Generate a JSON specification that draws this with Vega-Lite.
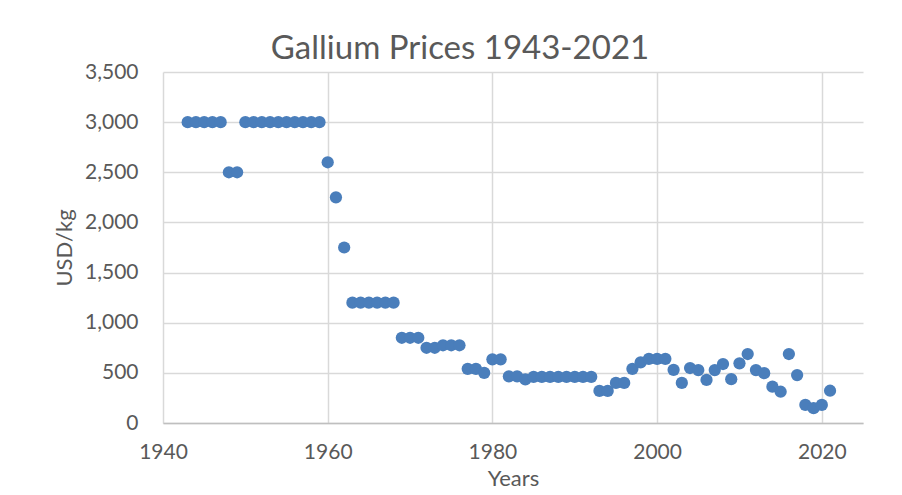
{
  "$schema": "https://vega.github.io/schema/vega-lite/v6.json",
  "width": 700,
  "height": 351,
  "autosize": {"type": "none"},
  "padding": {"left": 163, "top": 72, "right": 39, "bottom": 72},
  "background": "white",
  "title": {
    "text": "Gallium Prices 1943-2021",
    "font": "Lato",
    "fontSize": 33,
    "fontWeight": "normal",
    "color": "#595959",
    "anchor": "middle",
    "dx": -53,
    "offset": -5
  },
  "config": {
    "view": {"stroke": null},
    "font": "Lato"
  },
  "data": {
    "values": [
      {"year": 1943, "price": 3000}, {"year": 1944, "price": 3000}, {"year": 1945, "price": 3000},
      {"year": 1946, "price": 3000}, {"year": 1947, "price": 3000}, {"year": 1948, "price": 2500},
      {"year": 1949, "price": 2500}, {"year": 1950, "price": 3000}, {"year": 1951, "price": 3000},
      {"year": 1952, "price": 3000}, {"year": 1953, "price": 3000}, {"year": 1954, "price": 3000},
      {"year": 1955, "price": 3000}, {"year": 1956, "price": 3000}, {"year": 1957, "price": 3000},
      {"year": 1958, "price": 3000}, {"year": 1959, "price": 3000}, {"year": 1960, "price": 2600},
      {"year": 1961, "price": 2250}, {"year": 1962, "price": 1750}, {"year": 1963, "price": 1200},
      {"year": 1964, "price": 1200}, {"year": 1965, "price": 1200}, {"year": 1966, "price": 1200},
      {"year": 1967, "price": 1200}, {"year": 1968, "price": 1200}, {"year": 1969, "price": 850},
      {"year": 1970, "price": 850}, {"year": 1971, "price": 850}, {"year": 1972, "price": 750},
      {"year": 1973, "price": 750}, {"year": 1974, "price": 775}, {"year": 1975, "price": 775},
      {"year": 1976, "price": 775}, {"year": 1977, "price": 540}, {"year": 1978, "price": 540},
      {"year": 1979, "price": 500}, {"year": 1980, "price": 635}, {"year": 1981, "price": 635},
      {"year": 1982, "price": 465}, {"year": 1983, "price": 465}, {"year": 1984, "price": 435},
      {"year": 1985, "price": 460}, {"year": 1986, "price": 460}, {"year": 1987, "price": 460},
      {"year": 1988, "price": 460}, {"year": 1989, "price": 460}, {"year": 1990, "price": 460},
      {"year": 1991, "price": 460}, {"year": 1992, "price": 460}, {"year": 1993, "price": 320},
      {"year": 1994, "price": 320}, {"year": 1995, "price": 400}, {"year": 1996, "price": 400},
      {"year": 1997, "price": 540}, {"year": 1998, "price": 605}, {"year": 1999, "price": 640},
      {"year": 2000, "price": 640}, {"year": 2001, "price": 640}, {"year": 2002, "price": 530},
      {"year": 2003, "price": 400}, {"year": 2004, "price": 548}, {"year": 2005, "price": 528},
      {"year": 2006, "price": 430}, {"year": 2007, "price": 528}, {"year": 2008, "price": 588},
      {"year": 2009, "price": 437}, {"year": 2010, "price": 595}, {"year": 2011, "price": 688},
      {"year": 2012, "price": 528}, {"year": 2013, "price": 497}, {"year": 2014, "price": 362},
      {"year": 2015, "price": 312}, {"year": 2016, "price": 688}, {"year": 2017, "price": 478},
      {"year": 2018, "price": 180}, {"year": 2019, "price": 148}, {"year": 2020, "price": 180},
      {"year": 2021, "price": 322}
    ]
  },
  "mark": {"type": "circle", "size": 150, "color": "#4a7ebb", "opacity": 1},
  "encoding": {
    "x": {
      "field": "year",
      "type": "quantitative",
      "scale": {"domain": [1940, 2025], "nice": false, "zero": false},
      "axis": {
        "values": [1940, 1960, 1980, 2000, 2020],
        "format": "d",
        "title": "Years",
        "grid": true,
        "gridColor": "#d9d9d9",
        "gridWidth": 1.5,
        "domainColor": "#bfbfbf",
        "domainWidth": 1.5,
        "ticks": false,
        "labelPadding": 18,
        "labelFont": "Lato",
        "labelFontSize": 21,
        "labelColor": "#595959",
        "titleFont": "Lato",
        "titleFontSize": 22,
        "titleFontWeight": "normal",
        "titleColor": "#595959",
        "titlePadding": 6,
        "labelFlush": false
      }
    },
    "y": {
      "field": "price",
      "type": "quantitative",
      "scale": {"domain": [0, 3500], "nice": false},
      "axis": {
        "values": [0, 500, 1000, 1500, 2000, 2500, 3000, 3500],
        "format": ",d",
        "title": "USD/kg",
        "grid": true,
        "gridColor": "#d9d9d9",
        "gridWidth": 1.5,
        "domain": false,
        "ticks": false,
        "labelPadding": 25,
        "labelFont": "Lato",
        "labelFontSize": 21,
        "labelColor": "#595959",
        "titleFont": "Lato",
        "titleFontSize": 22,
        "titleFontWeight": "normal",
        "titleColor": "#595959",
        "titlePadding": 8
      }
    }
  }
}
